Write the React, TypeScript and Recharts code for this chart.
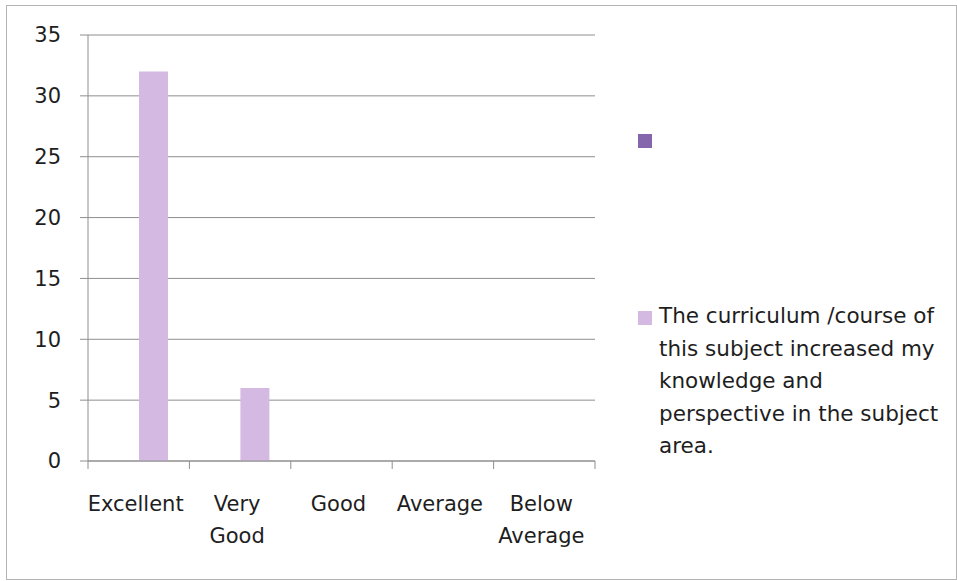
import React from "react";
import { BarChart, Bar, XAxis, YAxis, CartesianGrid, Legend } from "recharts";

const categories = ["Excellent", "Very Good", "Good", "Average", "Below Average"];
const series1Values = [0, 0, 0, 0, 0];
const series2Values = [32, 6, 0, 0, 0];
const seriesNames = ["", "The curriculum /course of this subject increased my knowledge and perspective in the subject area."];
const yTicks = [0, 5, 10, 15, 20, 25, 30, 35];

const data = categories.map((c, i) => ({ name: c, s1: series1Values[i], s2: series2Values[i] }));

const W = 957;
const H = 581;
const PLOT_LEFT = 88;
const PLOT_RIGHT = 595;
const PLOT_TOP = 35;
const PLOT_BOTTOM = 461;
const BAND = (PLOT_RIGHT - PLOT_LEFT) / categories.length;
const FONT = "'DejaVu Sans', sans-serif";
const GRID = "#8e8e8e";
const DARK = "#8566ad";
const LIGHT = "#d4bae2";

const XTick = (props: any) => {
  const { x, payload, index } = props;
  const label: string = payload.value;
  const lines = label.includes(" ") ? label.split(" ") : [label];
  const left = x - BAND / 2;
  return (
    <g>
      <line x1={left} y1={PLOT_BOTTOM} x2={left} y2={PLOT_BOTTOM + 8} stroke={GRID} strokeWidth={1} />
      {index === categories.length - 1 && (
        <line x1={x + BAND / 2} y1={PLOT_BOTTOM} x2={x + BAND / 2} y2={PLOT_BOTTOM + 8} stroke={GRID} strokeWidth={1} />
      )}
      <text x={x - 3} y={PLOT_BOTTOM} textAnchor="middle" fontFamily={FONT} fontSize={21} fill="#1e1e1e">
        {lines.map((l, i) => (
          <tspan key={i} x={x - 3} y={PLOT_BOTTOM + 50 + i * 32}>{l}</tspan>
        ))}
      </text>
    </g>
  );
};

const LegendContent = () => (
  <div style={{ position: "relative", width: 320, height: 340, fontFamily: FONT }}>
    <div style={{ position: "absolute", left: 0, top: 0, width: 14, height: 14, background: DARK }} />
    <div style={{ position: "absolute", left: 0, top: 177, width: 14, height: 14, background: LIGHT }} />
    <div
      style={{
        position: "absolute",
        left: 21,
        top: 166,
        width: 285,
        fontSize: 21.5,
        lineHeight: "32.5px",
        color: "#1e1e1e",
      }}
    >
      {seriesNames[1]}
    </div>
  </div>
);

export default function App() {
  return (
    <div style={{ position: "absolute", left: 0, top: 0, width: W, height: H, background: "#fff" }}>
      <div
        style={{
          position: "absolute",
          left: 6,
          top: 5,
          width: 949,
          height: 573,
          border: "1px solid #b4b4b4",
        }}
      />
      <BarChart
        width={W}
        height={H}
        data={data}
        margin={{ top: PLOT_TOP, right: W - PLOT_RIGHT, bottom: H - PLOT_BOTTOM - 80, left: 0 }}
        barGap={0}
        barSize={29}
      >
        <CartesianGrid vertical={false} stroke={GRID} strokeWidth={1} />
        <XAxis
          dataKey="name"
          height={80}
          axisLine={{ stroke: GRID }}
          tickLine={false}
          interval={0}
          tick={<XTick />}
        />
        <YAxis
          width={PLOT_LEFT}
          domain={[0, 35]}
          ticks={yTicks}
          axisLine={{ stroke: GRID }}
          tickLine={{ stroke: GRID }}
          tickSize={8}
          tickMargin={19}
          tick={{ fontFamily: FONT, fontSize: 21, fill: "#1e1e1e" }}
        />
        <Bar dataKey="s1" name={seriesNames[0]} fill={DARK} isAnimationActive={false} />
        <Bar dataKey="s2" name={seriesNames[1]} fill={LIGHT} isAnimationActive={false} />
        <Legend
          content={<LegendContent />}
          wrapperStyle={{ position: "absolute", left: 638, top: 134, width: 0, height: 0, overflow: "visible" }}
        />
      </BarChart>
    </div>
  );
}
